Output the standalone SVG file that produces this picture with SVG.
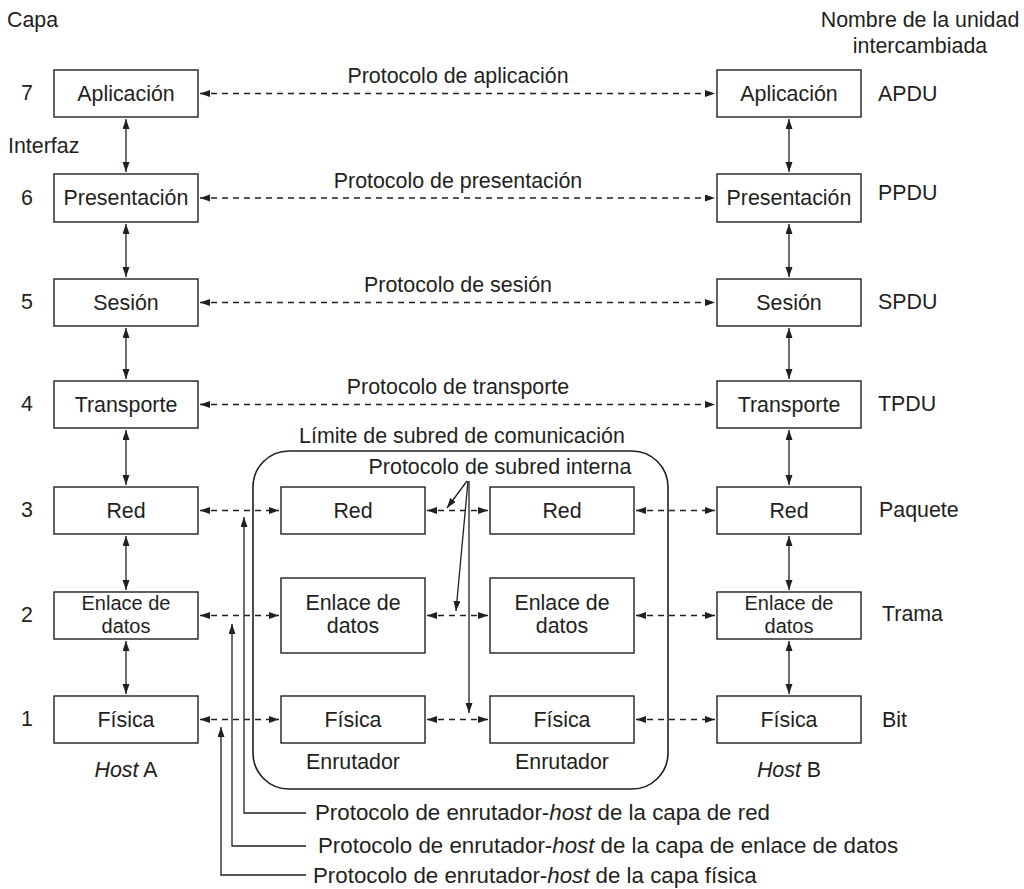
<svg xmlns="http://www.w3.org/2000/svg" width="1024" height="889" viewBox="0 0 1024 889">
<defs>
<marker id="ah" markerWidth="11" markerHeight="8" refX="10" refY="3.5" orient="auto-start-reverse" markerUnits="userSpaceOnUse">
<path d="M0,0 L10,3.5 L0,7 z" fill="#231f20"/>
</marker>
</defs>
<style>
text{font-family:"Liberation Sans",Arial,sans-serif;font-size:21.4px;fill:#231f20}
.c{text-anchor:middle}
.f{font-size:22.3px}
.s{font-size:20px}
.box{fill:#fff;stroke:#231f20;stroke-width:1.4}
.ln{fill:none;stroke:#231f20;stroke-width:1.3}
.d{fill:none;stroke:#231f20;stroke-width:1.3;stroke-dasharray:6 5}
</style>
<rect width="1024" height="889" fill="#fff"/>
<text x="7" y="27">Capa</text>
<text class="c" x="920" y="27">Nombre de la unidad</text>
<text class="c" x="920" y="53">intercambiada</text>
<text x="8" y="153">Interfaz</text>
<g id="numbers">
<text class="c" x="27" y="100">7</text>
<text class="c" x="27" y="205">6</text>
<text class="c" x="27" y="309">5</text>
<text class="c" x="27" y="411">4</text>
<text class="c" x="27" y="517">3</text>
<text class="c" x="27" y="622">2</text>
<text class="c" x="27" y="726">1</text>
</g>
<g id="units">
<text x="878" y="101">APDU</text>
<text x="878" y="200">PPDU</text>
<text x="878" y="309">SPDU</text>
<text x="878" y="411">TPDU</text>
<text x="879" y="517">Paquete</text>
<text x="882" y="621">Trama</text>
<text x="882" y="727">Bit</text>
</g>
<g id="subnet">
<rect x="253" y="451" width="415" height="338" rx="36" ry="36" fill="none" stroke="#231f20" stroke-width="1.6"/>
<text class="c" x="462" y="443">Límite de subred de comunicación</text>
<text class="c" x="500" y="474">Protocolo de subred interna</text>
</g>
<g id="connectors">
<path class="d" d="M200,93.5 H715" marker-start="url(#ah)" marker-end="url(#ah)"/>
<path class="d" d="M200,198 H715" marker-start="url(#ah)" marker-end="url(#ah)"/>
<path class="d" d="M200,302.5 H715" marker-start="url(#ah)" marker-end="url(#ah)"/>
<path class="d" d="M200,404.5 H715" marker-start="url(#ah)" marker-end="url(#ah)"/>
<path class="d" d="M200,510.5 H279" marker-start="url(#ah)" marker-end="url(#ah)"/>
<path class="d" d="M200,615.5 H279" marker-start="url(#ah)" marker-end="url(#ah)"/>
<path class="d" d="M200,719.5 H279" marker-start="url(#ah)" marker-end="url(#ah)"/>
<path class="d" d="M427,510.5 H488" marker-start="url(#ah)" marker-end="url(#ah)"/>
<path class="d" d="M427,615.5 H488" marker-start="url(#ah)" marker-end="url(#ah)"/>
<path class="d" d="M427,719.5 H488" marker-start="url(#ah)" marker-end="url(#ah)"/>
<path class="d" d="M636,510.5 H715" marker-start="url(#ah)" marker-end="url(#ah)"/>
<path class="d" d="M636,615.5 H715" marker-start="url(#ah)" marker-end="url(#ah)"/>
<path class="d" d="M636,719.5 H715" marker-start="url(#ah)" marker-end="url(#ah)"/>
<path class="ln" d="M126,119 V172" marker-start="url(#ah)" marker-end="url(#ah)"/>
<path class="ln" d="M126,224 V277" marker-start="url(#ah)" marker-end="url(#ah)"/>
<path class="ln" d="M126,328 V379" marker-start="url(#ah)" marker-end="url(#ah)"/>
<path class="ln" d="M126,430 V485" marker-start="url(#ah)" marker-end="url(#ah)"/>
<path class="ln" d="M126,536 V590" marker-start="url(#ah)" marker-end="url(#ah)"/>
<path class="ln" d="M126,641 V694" marker-start="url(#ah)" marker-end="url(#ah)"/>
<path class="ln" d="M789,119 V172" marker-start="url(#ah)" marker-end="url(#ah)"/>
<path class="ln" d="M789,224 V277" marker-start="url(#ah)" marker-end="url(#ah)"/>
<path class="ln" d="M789,328 V379" marker-start="url(#ah)" marker-end="url(#ah)"/>
<path class="ln" d="M789,430 V485" marker-start="url(#ah)" marker-end="url(#ah)"/>
<path class="ln" d="M789,536 V590" marker-start="url(#ah)" marker-end="url(#ah)"/>
<path class="ln" d="M789,641 V694" marker-start="url(#ah)" marker-end="url(#ah)"/>
<path class="ln" d="M467,481 L447,508" marker-end="url(#ah)"/>
<path class="ln" d="M468,481 L456,611" marker-end="url(#ah)"/>
<path class="ln" d="M469,481 V713" marker-end="url(#ah)"/>
<path class="ln" d="M306,813 H244 V517" marker-end="url(#ah)"/>
<path class="ln" d="M306,846 H232 V624" marker-end="url(#ah)"/>
<path class="ln" d="M306,875 H221 V727" marker-end="url(#ah)"/>
</g>
<g id="protocol-labels">
<text class="c" x="458" y="83">Protocolo de aplicación</text>
<text class="c" x="458" y="188">Protocolo de presentación</text>
<text class="c" x="458" y="292">Protocolo de sesión</text>
<text class="c" x="458" y="394">Protocolo de transporte</text>
<text class="f" x="315" y="820">Protocolo de enrutador-<tspan font-style="italic">host</tspan> de la capa de red</text>
<text class="f" x="318" y="853">Protocolo de enrutador-<tspan font-style="italic">host</tspan> de la capa de enlace de datos</text>
<text class="f" x="313" y="883">Protocolo de enrutador-<tspan font-style="italic">host</tspan> de la capa física</text>
</g>
<g id="hostA-7"><rect class="box" x="54" y="70" width="144" height="47"/><text class="c" x="126" y="101">Aplicación</text></g>
<g id="hostA-6"><rect class="box" x="54" y="174" width="144" height="48"/><text class="c" x="126" y="205">Presentación</text></g>
<g id="hostA-5"><rect class="box" x="54" y="279" width="144" height="47"/><text class="c" x="126" y="310">Sesión</text></g>
<g id="hostA-4"><rect class="box" x="54" y="381" width="144" height="47"/><text class="c" x="126" y="412">Transporte</text></g>
<g id="hostA-3"><rect class="box" x="54" y="487" width="144" height="47"/><text class="c" x="126" y="518">Red</text></g>
<g id="hostA-2"><rect class="box" x="54" y="592" width="144" height="47"/><text class="c s" x="126" y="610">Enlace de</text><text class="c s" x="126" y="633">datos</text></g>
<g id="hostA-1"><rect class="box" x="54" y="696" width="144" height="47"/><text class="c" x="126" y="727">Física</text></g>
<text class="c" x="126" y="777"><tspan font-style="italic">Host</tspan> A</text>
<g id="r1-3"><rect class="box" x="281" y="487" width="144" height="47"/><text class="c" x="353" y="518">Red</text></g>
<g id="r1-2"><rect class="box" x="281" y="578" width="144" height="75"/><text class="c" x="353" y="610">Enlace de</text><text class="c" x="353" y="633">datos</text></g>
<g id="r1-1"><rect class="box" x="281" y="696" width="144" height="47"/><text class="c" x="353" y="727">Física</text></g>
<text class="c" x="353" y="769">Enrutador</text>
<g id="r2-3"><rect class="box" x="490" y="487" width="144" height="47"/><text class="c" x="562" y="518">Red</text></g>
<g id="r2-2"><rect class="box" x="490" y="578" width="144" height="75"/><text class="c" x="562" y="610">Enlace de</text><text class="c" x="562" y="633">datos</text></g>
<g id="r2-1"><rect class="box" x="490" y="696" width="144" height="47"/><text class="c" x="562" y="727">Física</text></g>
<text class="c" x="562" y="769">Enrutador</text>
<g id="hostB-7"><rect class="box" x="717" y="70" width="144" height="47"/><text class="c" x="789" y="101">Aplicación</text></g>
<g id="hostB-6"><rect class="box" x="717" y="174" width="144" height="48"/><text class="c" x="789" y="205">Presentación</text></g>
<g id="hostB-5"><rect class="box" x="717" y="279" width="144" height="47"/><text class="c" x="789" y="310">Sesión</text></g>
<g id="hostB-4"><rect class="box" x="717" y="381" width="144" height="47"/><text class="c" x="789" y="412">Transporte</text></g>
<g id="hostB-3"><rect class="box" x="717" y="487" width="144" height="47"/><text class="c" x="789" y="518">Red</text></g>
<g id="hostB-2"><rect class="box" x="717" y="592" width="144" height="47"/><text class="c s" x="789" y="610">Enlace de</text><text class="c s" x="789" y="633">datos</text></g>
<g id="hostB-1"><rect class="box" x="717" y="696" width="144" height="47"/><text class="c" x="789" y="727">Física</text></g>
<text class="c" x="789" y="777"><tspan font-style="italic">Host</tspan> B</text>
</svg>
